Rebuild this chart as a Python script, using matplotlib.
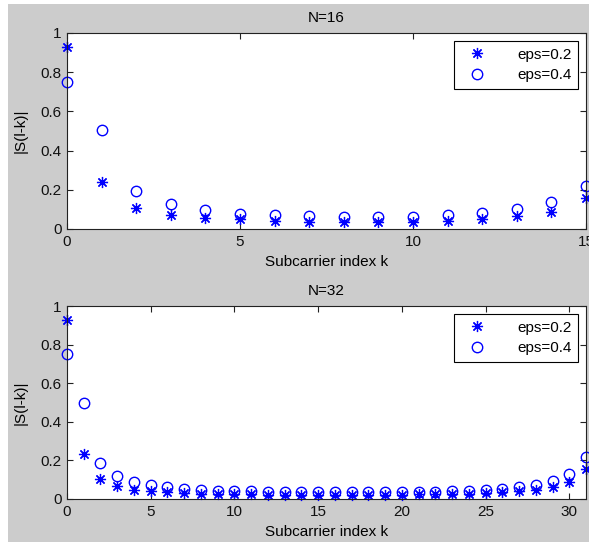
import numpy as np
import matplotlib
matplotlib.use("Agg")
import matplotlib.pyplot as plt
from matplotlib.patches import Rectangle

plt.rcParams['font.family'] = ['Liberation Sans', 'DejaVu Sans']
plt.rcParams['font.size'] = 11

# N=16 values
k16 = np.arange(16)
s16_eps02 = [0.93, 0.238, 0.106, 0.073, 0.056, 0.049, 0.043, 0.036, 0.035, 0.035,
             0.036, 0.042, 0.049, 0.064, 0.089, 0.158]
s16_eps04 = [0.748, 0.504, 0.193, 0.127, 0.096, 0.078, 0.071, 0.064, 0.063, 0.062,
             0.063, 0.07, 0.082, 0.1, 0.136, 0.221]

# N=32 values
k32 = np.arange(32)
s32_eps02 = [0.93, 0.233, 0.105, 0.067, 0.049, 0.042, 0.035, 0.031, 0.028, 0.026,
             0.025, 0.024, 0.023, 0.023, 0.022, 0.022, 0.022, 0.022, 0.022, 0.023,
             0.023, 0.024, 0.025, 0.026, 0.028, 0.031, 0.035, 0.04, 0.049, 0.062,
             0.088, 0.158]
s32_eps04 = [0.75, 0.5, 0.187, 0.119, 0.088, 0.072, 0.06, 0.053, 0.047, 0.044,
             0.041, 0.039, 0.037, 0.036, 0.035, 0.034, 0.034, 0.034, 0.034, 0.035,
             0.035, 0.036, 0.038, 0.04, 0.043, 0.047, 0.052, 0.06, 0.072, 0.092,
             0.13, 0.219]

W, H = 589, 542
fig = plt.figure(figsize=(W / 100, H / 100), dpi=100, facecolor='white')
fig.patches.append(Rectangle((8 / W, 0), 1 - 8 / W, 1 - 4 / H, transform=fig.transFigure,
                             facecolor='#cccccc', edgecolor='none', zorder=-10))

# matlab style asterisk: 8 arms
star = (8, 2, 0)

def add_panel(top, bottom, k, a, b, n):
    ax = fig.add_axes([67 / W, 1 - bottom / H, (586 - 67) / W, (bottom - top) / H])
    ax.plot(k, a, marker=star, color='blue', markersize=8, markeredgewidth=0.9,
            linestyle='none', label='eps=0.2', clip_on=False)
    ax.plot(k, b, 'o', color='blue', markerfacecolor='none', markersize=7.5,
            markeredgewidth=1, linestyle='none', label='eps=0.4', clip_on=False)
    ax.set_xlim(0, k[-1])
    ax.set_ylim(0, 1)
    ax.set_yticks([0, 0.2, 0.4, 0.6, 0.8, 1])
    ax.set_yticklabels(['0', '0.2', '0.4', '0.6', '0.8', '1'])
    ax.set_xticks(np.arange(0, k[-1] + 1, 5))
    ax.tick_params(direction='in', top=True, right=True, length=4, colors='#222222',
                   labelcolor='#111111', pad=4)
    for sp in ax.spines.values():
        sp.set_color('#222222')
    ax.set_title('N=%d' % n, fontsize=11, pad=8)
    ax.set_xlabel('Subcarrier index k', labelpad=5)
    ax.set_ylabel('|S(l-k)|', labelpad=9)
    leg = ax.legend(loc='upper right', fancybox=False, edgecolor='black', framealpha=1,
                    borderaxespad=0.5, handletextpad=1.5, handlelength=2.2,
                    borderpad=0.45, labelspacing=0.45)
    leg.get_frame().set_linewidth(0.8)
    return ax

add_panel(33, 229, k16, s16_eps02, s16_eps04, 16)
add_panel(306, 499, k32, s32_eps02, s32_eps04, 32)

fig.savefig('out.png', dpi=100, facecolor=fig.get_facecolor())
